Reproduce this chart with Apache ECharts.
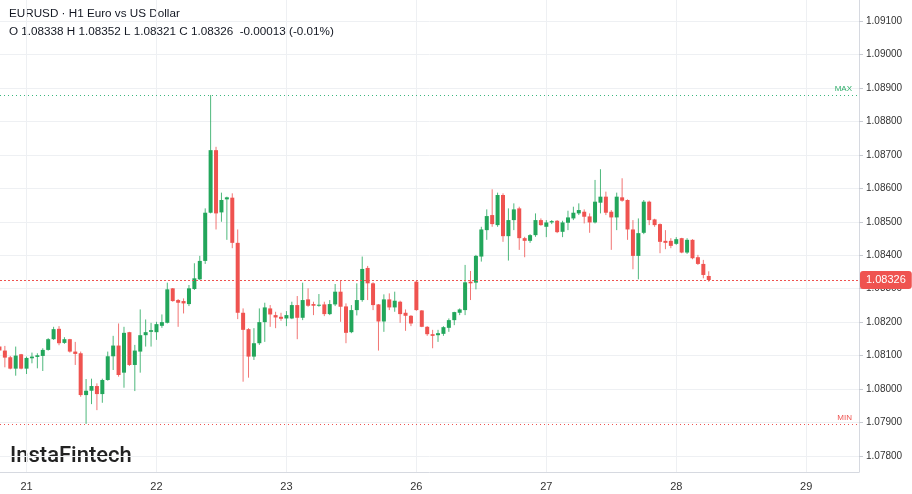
<!DOCTYPE html>
<html><head><meta charset="utf-8">
<script src="https://cdn.jsdelivr.net/npm/echarts@6/dist/echarts.min.js"></script>
<style>html,body{margin:0;padding:0;background:#fff}#c{width:912px;height:494px}</style>
</head><body><div id="c"></div>
<script>
// hour index: 0 = 21st 00:00 (weekend skipped)
const hours = [-5,-4,-3,-2,-1,
0,1,2,3,4,5,6,7,8,9,10,11,12,13,14,15,16,17,18,19,20,21,22,23,
24,25,26,27,28,29,30,31,32,33,34,35,36,37,38,39,40,41,42,43,44,45,46,47,
48,49,50,51,52,53,54,55,56,57,58,59,60,61,62,63,64,65,66,67,68,69,70,71,
72,73,74,75,76,77,78,79,80,81,82,83,84,85,86,87,88,89,90,91,92,93,94,95,
96,97,98,99,100,101,102,103,104,105,106,107,108,109,110,111,112,113,114,115,116,117,118,119,
120,121,122,123,124,125,126];
const opens = [1.08127,1.08115,1.08095,1.08061,1.08104,
1.08061,1.08092,1.08096,1.08099,1.08117,1.08149,1.08180,1.08138,1.08149,1.08112,1.08107,1.07982,1.07995,1.08009,1.07985,1.08027,1.08098,1.08130,1.08049,1.08170,1.08072,1.08112,1.08161,1.08171,
1.08170,1.08189,1.08198,1.08301,1.08266,1.08263,1.08254,1.08299,1.08328,1.08383,1.08527,1.08714,1.08528,1.08567,1.08572,1.08437,1.08228,1.08179,1.08097,1.08137,1.08200,1.08241,1.08221,1.08216,
1.08211,1.08211,1.08251,1.08213,1.08268,1.08254,1.08249,1.08253,1.08224,1.08253,1.08291,1.08247,1.08170,1.08236,1.08266,1.08362,1.08316,1.08253,1.08202,1.08268,1.08244,1.08261,1.08228,1.08219,
1.08321,1.08235,1.08186,1.08164,1.08161,1.08165,1.08183,1.08206,1.08228,1.08236,1.08321,1.08318,1.08396,1.08475,1.08520,1.08490,1.08580,1.08457,1.08505,1.08540,1.08451,1.08443,1.08460,1.08505,
1.08485,1.08498,1.08503,1.08470,1.08497,1.08510,1.08525,1.08530,1.08516,1.08498,1.08557,1.08575,1.08530,1.08513,1.08573,1.08565,1.08477,1.08398,1.08467,1.08560,1.08507,1.08493,1.08443,1.08443,
1.08434,1.08451,1.08408,1.08446,1.08394,1.08374,1.08338];
const highs = [1.08132,1.08129,1.08099,1.08127,1.08105,
1.08097,1.08109,1.08107,1.08122,1.08152,1.08186,1.08188,1.08155,1.08150,1.08141,1.08112,1.08030,1.08031,1.08017,1.08031,1.08112,1.08159,1.08196,1.08186,1.08171,1.08132,1.08238,1.08208,1.08198,
1.08201,1.08223,1.08318,1.08302,1.08269,1.08271,1.08311,1.08376,1.08398,1.08540,1.08879,1.08724,1.08587,1.08575,1.08585,1.08477,1.08241,1.08182,1.08182,1.08241,1.08258,1.08251,1.08231,1.08228,
1.08233,1.08261,1.08278,1.08318,1.08301,1.08261,1.08284,1.08261,1.08266,1.08314,1.08324,1.08256,1.08251,1.08316,1.08396,1.08368,1.08319,1.08254,1.08283,1.08286,1.08291,1.08264,1.08238,1.08221,
1.08323,1.08236,1.08188,1.08177,1.08177,1.08188,1.08211,1.08231,1.08241,1.08371,1.08353,1.08401,1.08485,1.08537,1.08597,1.08587,1.08585,1.08540,1.08555,1.08545,1.08455,1.08463,1.08525,1.08510,
1.08505,1.08505,1.08505,1.08503,1.08533,1.08545,1.08555,1.08537,1.08525,1.08625,1.08657,1.08590,1.08535,1.08587,1.08630,1.08567,1.08505,1.08510,1.08565,1.08563,1.08509,1.08495,1.08475,1.08451,
1.08454,1.08452,1.08451,1.08448,1.08401,1.08386,1.08352];
const lows = [1.08111,1.08065,1.08059,1.08040,1.08059,
1.08045,1.08077,1.08062,1.08054,1.08115,1.08147,1.08131,1.08135,1.08109,1.08072,1.07977,1.07896,1.07955,1.07937,1.07959,1.08025,1.08057,1.08037,1.08004,1.08069,1.07994,1.08049,1.08127,1.08127,
1.08147,1.08183,1.08196,1.08261,1.08186,1.08226,1.08248,1.08296,1.08326,1.08374,1.08525,1.08477,1.08500,1.08446,1.08421,1.08209,1.08022,1.08034,1.08087,1.08132,1.08141,1.08186,1.08182,1.08204,
1.08188,1.08209,1.08149,1.08206,1.08246,1.08221,1.08246,1.08218,1.08221,1.08248,1.08201,1.08137,1.08167,1.08220,1.08261,1.08266,1.08236,1.08115,1.08171,1.08236,1.08231,1.08198,1.08174,1.08188,
1.08234,1.08185,1.08159,1.08122,1.08141,1.08159,1.08171,1.08191,1.08221,1.08221,1.08266,1.08298,1.08381,1.08446,1.08485,1.08485,1.08440,1.08384,1.08475,1.08416,1.08394,1.08437,1.08455,1.08488,
1.08454,1.08493,1.08466,1.08454,1.08475,1.08505,1.08520,1.08495,1.08467,1.08495,1.08525,1.08520,1.08416,1.08475,1.08560,1.08446,1.08358,1.08328,1.08463,1.08490,1.08485,1.08406,1.08418,1.08421,
1.08431,1.08406,1.08404,1.08388,1.08371,1.08331,1.08321];
const closes = [1.08115,1.08094,1.08061,1.08100,1.08061,
1.08093,1.08097,1.08101,1.08117,1.08149,1.08179,1.08137,1.08149,1.08112,1.08105,1.07982,1.07995,1.08009,1.07985,1.08027,1.08098,1.08130,1.08042,1.08168,1.08072,1.08115,1.08161,1.08170,1.08176,
1.08194,1.08200,1.08298,1.08263,1.08258,1.08256,1.08301,1.08331,1.08383,1.08527,1.08714,1.08525,1.08565,1.08573,1.08437,1.08228,1.08177,1.08097,1.08137,1.08200,1.08244,1.08223,1.08214,1.08210,
1.08221,1.08251,1.08213,1.08266,1.08249,1.08249,1.08252,1.08224,1.08254,1.08291,1.08246,1.08168,1.08236,1.08266,1.08359,1.08316,1.08251,1.08202,1.08268,1.08244,1.08264,1.08224,1.08219,1.08196,
1.08236,1.08186,1.08164,1.08159,1.08167,1.08185,1.08206,1.08230,1.08238,1.08319,1.08316,1.08398,1.08477,1.08517,1.08493,1.08580,1.08457,1.08505,1.08537,1.08451,1.08443,1.08460,1.08505,1.08490,
1.08498,1.08502,1.08469,1.08498,1.08513,1.08527,1.08535,1.08515,1.08498,1.08560,1.08575,1.08527,1.08513,1.08575,1.08563,1.08477,1.08398,1.08466,1.08560,1.08505,1.08490,1.08440,1.08437,1.08428,
1.08448,1.08408,1.08446,1.08391,1.08374,1.08341,1.08326];
const dayTicks = [0, 24, 48, 72, 96, 120, 144];
const dayLabels = ['21', '22', '23', '26', '27', '28', '29'];
const priceTicks = [1.078, 1.079, 1.080, 1.081, 1.082, 1.083, 1.084, 1.085, 1.086, 1.087, 1.088, 1.089, 1.090, 1.091];

const GREEN = '#22a65b', RED = '#ef5350';
const data = hours.map((h, i) => [h, opens[i], closes[i], lows[i], highs[i]]);
const maxHigh = Math.max(...highs), minLow = Math.min(...lows);
const last = closes[closes.length - 1];

function renderItem(params, api) {
  const x = api.value(0), o = api.value(1), c = api.value(2), l = api.value(3), h = api.value(4);
  const pO = api.coord([x, o]), pC = api.coord([x, c]), pL = api.coord([x, l]), pH = api.coord([x, h]);
  const col = c >= o ? GREEN : RED;
  const bw = 4;
  const top = Math.min(pO[1], pC[1]);
  const bh = Math.max(Math.abs(pO[1] - pC[1]), 1);
  return { type: 'group', children: [
    { type: 'line', shape: { x1: pH[0], y1: pH[1], x2: pL[0], y2: pL[1] }, style: { stroke: col, lineWidth: 1, opacity: 0.8 } },
    { type: 'rect', shape: { x: pO[0] - bw / 2, y: top, width: bw, height: bh }, style: { fill: col } }
  ]};
}

const chart = echarts.init(document.getElementById('c'));
chart.setOption({
  animation: false,
  backgroundColor: '#ffffff',
  grid: { left: 0, right: 53, top: 0, bottom: 22 },
  xAxis: {
    type: 'value', min: -4.9, max: 153.75,
    axisLine: { show: true, onZero: false, lineStyle: { color: '#d6d9e0' } },
    axisTick: { show: false, customValues: dayTicks },
    axisLabel: { customValues: dayTicks, formatter: v => dayLabels[dayTicks.indexOf(v)] || '', color: '#333', fontSize: 11, margin: 9, fontFamily: 'Liberation Sans, Arial' },
    splitLine: { show: true, lineStyle: { color: '#eef0f3' } }
  },
  yAxis: {
    type: 'value', position: 'right', min: 1.077521, max: 1.091628,
    axisLine: { show: true, onZero: false, lineStyle: { color: '#d6d9e0' } },
    axisTick: { show: true, length: 4, customValues: priceTicks, lineStyle: { color: '#c8cbd2' } },
    axisLabel: { customValues: priceTicks, formatter: v => v.toFixed(5), color: '#333', fontSize: 10, margin: 7, fontFamily: 'Liberation Sans, Arial' },
    splitLine: { show: true, lineStyle: { color: '#eef0f3' } }
  },
  graphic: [
    { type: 'text', left: 9, top: 8, style: { text: 'EURUSD · H1 Euro vs US Dollar', fill: '#131722', font: '11.7px "Liberation Sans", Arial' } },
    { type: 'text', left: 9, top: 26, style: { text: 'O 1.08338 H 1.08352 L 1.08321 C 1.08326  -0.00013 (-0.01%)', fill: '#131722', font: '11.7px "Liberation Sans", Arial' } },
    { type: 'text', left: 10, top: 445, style: { text: 'InstaFintech', fill: '#222222', font: '500 22px Roboto' } }
  ],
  series: [
    { type: 'custom', renderItem: renderItem, data: data, clip: true, encode: { x: 0, y: [1, 2, 3, 4] } },
    { type: 'line', data: [], silent: true,
      markLine: { symbol: ['none', 'none'], silent: true, animation: false, precision: 5,
        data: [
          { yAxis: maxHigh, lineStyle: { color: '#3bb77e', type: [1, 3], width: 1 },
            label: { show: true, position: 'insideEndTop', formatter: 'MAX', color: '#2fae6a', fontSize: 8, distance: [7, 2] } },
          { yAxis: minLow, lineStyle: { color: RED, type: [1, 3], width: 1 },
            label: { show: true, position: 'insideEndTop', formatter: 'MIN', color: RED, fontSize: 8, distance: [7, 2] } },
          { yAxis: last, lineStyle: { color: RED, type: [2, 2], width: 1 },
            label: { show: true, position: 'end', formatter: last.toFixed(5), backgroundColor: RED, color: '#fff', padding: [4, 6, 3, 6], borderRadius: 3, fontSize: 11, distance: 1, fontFamily: 'Liberation Sans, Arial' } }
        ] } }
  ]
});
</script></body></html>
